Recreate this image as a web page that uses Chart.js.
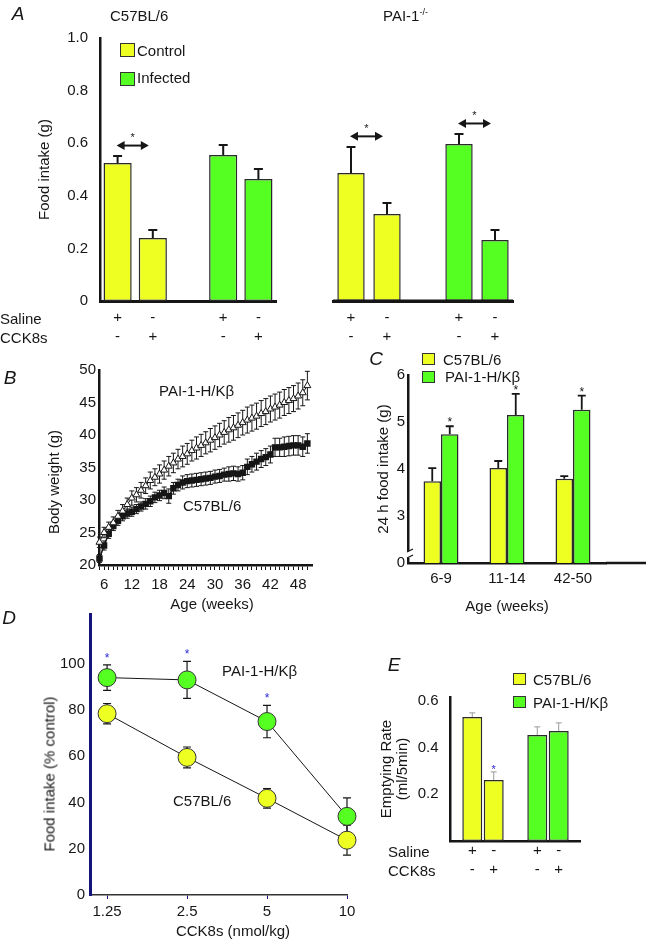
<!DOCTYPE html>
<html>
<head>
<meta charset="utf-8">
<script src="https://cdn.jsdelivr.net/npm/chart.js@4.4.1/dist/chart.umd.min.js"></script>
<style>
  html, body { margin: 0; padding: 0; background: #fff; overflow: hidden; }
  body { width: 646px; height: 939px; position: relative; font-family: "Liberation Sans", Arial, sans-serif; color: #161616; }
  canvas { position: absolute; }
  .t { position: absolute; white-space: nowrap; font-size: 15px; line-height: 1; transform: translateY(-50%); }
  .c { transform: translate(-50%, -50%); }
  .letter { font-style: italic; font-size: 19px; }
  .rot { transform: translate(-50%, -50%) rotate(-90deg); }
  .box { position: absolute; border: 1.5px solid #333; box-sizing: border-box; }
  .sup { font-size: 9px; position: relative; top: -6px; }
</style>
</head>
<body>
<canvas id="chartA1" width="290" height="350" style="left:0;top:0"></canvas>
<canvas id="chartA2" width="210" height="350" style="left:320px;top:0"></canvas>
<canvas id="chartB" width="330" height="265" style="left:0;top:355px"></canvas>
<canvas id="chartC" width="316" height="280" style="left:330px;top:340px"></canvas>
<canvas id="chartD" width="370" height="339" style="left:0;top:600px"></canvas>
<canvas id="chartE" width="276" height="250" style="left:370px;top:640px"></canvas>

<!-- panel A -->
<div class="t c letter" style="left:18px;top:13px">A</div>
<div class="t" style="left:110px;top:15px">C57BL/6</div>
<div class="t" style="left:383px;top:15px">PAI-1<span class="sup">-/-</span></div>
<div class="box" style="left:120px;top:43px;width:15px;height:14px;background:#eeff22"></div>
<div class="t" style="left:137px;top:50px">Control</div>
<div class="box" style="left:120px;top:72px;width:15px;height:14px;background:#55ff22"></div>
<div class="t" style="left:137px;top:77px">Infected</div>
<div class="t" style="left:0;top:318px">Saline</div>
<div class="t" style="left:0;top:337px">CCK8s</div>

<!-- panel B -->
<div class="t c letter" style="left:10px;top:377px">B</div>
<div class="t rot" style="left:53px;top:482px">Body weight (g)</div>
<div class="t c" style="left:212px;top:603px">Age (weeks)</div>
<div class="t" style="left:159px;top:390px">PAI-1-H/Kβ</div>
<div class="t" style="left:183px;top:505px">C57BL/6</div>

<!-- panel C -->
<div class="t c letter" style="left:376px;top:358px">C</div>
<div class="box" style="left:422px;top:353px;width:13px;height:12px;background:#eeff22"></div>
<div class="t" style="left:443px;top:359px">C57BL/6</div>
<div class="box" style="left:422px;top:371px;width:13px;height:12px;background:#55ff22"></div>
<div class="t" style="left:445px;top:376px">PAI-1-H/Kβ</div>

<!-- panel D -->
<div class="t c letter" style="left:9px;top:617px">D</div>
<div class="t rot" style="left:49px;top:774px">Food intake (% control)</div>
<div class="t c" style="left:233px;top:930px">CCK8s (nmol/kg)</div>
<div class="t" style="left:222px;top:670px">PAI-1-H/Kβ</div>
<div class="t" style="left:173px;top:800px">C57BL/6</div>

<!-- panel E -->
<div class="t c letter" style="left:394px;top:664px">E</div>
<div class="box" style="left:513px;top:673px;width:13px;height:12px;background:#eeff22"></div>
<div class="t" style="left:533px;top:679px">C57BL/6</div>
<div class="box" style="left:513px;top:696px;width:13px;height:12px;background:#55ff22"></div>
<div class="t" style="left:533px;top:702px">PAI-1-H/Kβ</div>
<div class="t" style="left:388px;top:851px">Saline</div>
<div class="t" style="left:388px;top:870px">CCK8s</div>

<script>
// ---- data ----

// A: food intake (g); slot 3 is the empty gap between Control and Infected
const aSlots = ['Control saline', 'Control CCK8s', '', 'Infected saline', 'Infected CCK8s'];
const aSaline = ['+', '-', '+', '-'];
const aCck = ['-', '+', '-', '+'];
const aC57 = [0.525, 0.24, null, 0.555, 0.464];
const aC57Err = [0.026, 0.03, null, 0.038, 0.038];
const aPai = [0.487, 0.331, null, 0.597, 0.232];
const aPaiErr = [0.099, 0.042, null, 0.038, 0.038];
const aTicks = [0, 0.2, 0.4, 0.6, 0.8, 1.0];

// B: body weight (g) by age (weeks)
const bWeeks = [5, 6, 7, 8, 9, 10, 11, 12, 13, 14, 15, 16, 17, 18, 19, 20, 21, 22, 23, 24, 25, 26, 27,
  28, 29, 30, 31, 32, 33, 34, 35, 36, 37, 38, 39, 40, 41, 42, 43, 44, 45, 46, 47, 48, 49, 50];
const bPai = [23.5, 25, 25.8, 26.5, 27.5, 28.3, 29.3, 30.3, 30.8, 31.5, 32.2, 33, 33.5, 34, 34.6, 35.2,
  35.7, 36.3, 36.7, 37.1, 37.6, 38, 38.4, 38.8, 39.2, 39.6, 40, 40.4, 40.8, 41.1, 41.5, 41.9, 42.3, 42.6,
  42.9, 43.3, 43.6, 44, 44.3, 44.6, 45, 45.3, 45.6, 46, 46.5, 47.6];
const bPaiErr = [0.8, 0.8, 0.8, 0.9, 0.9, 1, 1, 1.1, 1.1, 1.2, 1.2, 1.3, 1.3, 1.4, 1.4, 1.5, 1.5, 1.5,
  1.6, 1.6, 1.6, 1.7, 1.7, 1.7, 1.8, 1.8, 1.8, 1.8, 1.9, 1.9, 1.9, 1.9, 2, 2, 2, 2, 2, 2, 2, 2, 2, 2, 2,
  2, 2, 2.2];
const bC57 = [21, 23, 24.8, 26, 26.8, 27.5, 27.9, 28.2, 28.6, 29, 29.4, 29.8, 30.4, 30.7, 31.1, 30.6,
  31.8, 32.3, 32.7, 32.9, 33, 33.1, 33.2, 33.3, 33.4, 33.6, 33.7, 33.9, 34, 34.1, 34, 34.2, 35.1, 35.5,
  35.9, 36.3, 36.6, 37, 38.1, 38.1, 38.2, 38.3, 38.4, 38.4, 38.2, 38.7];
const bC57Err = [0.6, 0.7, 0.7, 0.7, 0.7, 0.7, 0.7, 0.7, 0.7, 0.7, 0.8, 0.8, 0.8, 0.8, 0.9, 1.1, 0.9,
  0.9, 1, 1, 1, 1, 1, 1, 1, 1, 1, 1, 1.1, 1.1, 1.1, 1.1, 1.2, 1.2, 1.3, 1.3, 1.3, 1.3, 1.4, 1.4, 1.5, 1.5,
  1.5, 1.5, 1.5, 1.5];
const bAgeLabels = [6, 12, 18, 24, 30, 36, 42, 48];
const bWeightTicks = [20, 25, 30, 35, 40, 45, 50];

// C: 24 h food intake (g); the axis is broken below 3, its bottom tick reads 0
const cAges = ['6-9', '11-14', '42-50'];
const cC57 = [3.74, 4.02, 3.79];
const cC57Err = [0.28, 0.15, 0.06];
const cPai = [4.74, 5.15, 5.26];
const cPaiErr = [0.17, 0.45, 0.3];
const cSig = [true, true, true];
const cTicks = [2, 3, 4, 5, 6];

// D: food intake (% control) vs CCK8s dose (nmol/kg)
const dDose = [1.25, 2.5, 5, 10];
const dPai = [94, 93, 75, 34];
const dPaiErr = [5.5, 8, 7, 8];
const dPaiSig = [true, true, true, false];
const dC57 = [78.4, 59.5, 41.8, 23.7];
const dC57Err = [4.4, 4.5, 4.2, 6.5];
const dTicks = [0, 20, 40, 60, 80, 100];

// E: emptying rate (ml/5min)
const eGroups = ['C57BL/6', 'PAI-1-H/Kβ'];
const eSaline = [0.531, 0.454];
const eSalineErr = [0.018, 0.035];
const eCck = [0.261, 0.471];
const eCckErr = [0.035, 0.035];
const eCckSig = [true, false];
const eSalineSigns = ['+', '-', '+', '-'];
const eCckSigns = ['-', '+', '-', '+'];
const eTicks = [0.2, 0.4, 0.6];

// ---- styling ----
const INK = '#161616';
const NAVY = '#14147a';
const BLUE = '#2a2ad8';
const YELLOW = '#eeff22';
const GREEN = '#55ff22';
const FONT = '"Liberation Sans", Arial, sans-serif';

Chart.defaults.font.family = FONT;
Chart.defaults.font.size = 15;
Chart.defaults.color = INK;
Chart.defaults.animation = false;
Chart.defaults.responsive = false;
Chart.defaults.events = [];
Chart.defaults.plugins.legend.display = false;
Chart.defaults.plugins.tooltip.enabled = false;

const num = (d) => (d == null ? null : typeof d === 'object' ? d.y : d);
const tickList = (values) => (scale) => { scale.ticks = values.map((v) => ({ value: v })); };

function drawStar(ctx, x, yc, color, size) {
  ctx.save();
  ctx.fillStyle = color;
  ctx.font = size + 'px ' + FONT;
  ctx.textAlign = 'center';
  ctx.textBaseline = 'alphabetic';
  ctx.fillText('*', x, yc + size * 0.57);
  ctx.restore();
}

function drawDoubleArrow(ctx, x1, x2, y) {
  const head = 8, half = 4.5;
  ctx.save();
  ctx.strokeStyle = INK;
  ctx.fillStyle = INK;
  ctx.lineWidth = 2;
  ctx.beginPath();
  ctx.moveTo(x1 + head - 1, y);
  ctx.lineTo(x2 - head + 1, y);
  ctx.stroke();
  ctx.beginPath();
  ctx.moveTo(x1, y); ctx.lineTo(x1 + head, y - half); ctx.lineTo(x1 + head, y + half);
  ctx.closePath();
  ctx.moveTo(x2, y); ctx.lineTo(x2 - head, y - half); ctx.lineTo(x2 - head, y + half);
  ctx.closePath();
  ctx.fill();
  ctx.restore();
}

// error bars (under the marks) and significance stars (over them)
const errorBars = {
  id: 'errorBars',
  beforeDatasetsDraw(chart) {
    const { ctx } = chart;
    chart.data.datasets.forEach((ds, di) => {
      if (!ds.err) return;
      const meta = chart.getDatasetMeta(di);
      const yScale = chart.scales[meta.yAxisID];
      const half = (ds.errCap ?? 8) / 2;
      ctx.save();
      ctx.strokeStyle = ds.errColor || INK;
      ctx.lineWidth = ds.errWidth ?? 1.5;
      ctx.beginPath();
      meta.data.forEach((el, i) => {
        const v = num(ds.data[i]);
        const e = ds.err[i];
        if (v == null || e == null) return;
        const hi = yScale.getPixelForValue(v + e);
        const lo = yScale.getPixelForValue(ds.errBoth ? v - e : v);
        ctx.moveTo(el.x, lo); ctx.lineTo(el.x, hi);
        ctx.moveTo(el.x - half, hi); ctx.lineTo(el.x + half, hi);
        if (ds.errBoth) { ctx.moveTo(el.x - half, lo); ctx.lineTo(el.x + half, lo); }
      });
      ctx.stroke();
      ctx.restore();
    });
  },
  afterDatasetsDraw(chart) {
    chart.data.datasets.forEach((ds, di) => {
      if (!ds.sig) return;
      const meta = chart.getDatasetMeta(di);
      const yScale = chart.scales[meta.yAxisID];
      meta.data.forEach((el, i) => {
        if (!ds.sig[i]) return;
        const top = num(ds.data[i]) + (ds.err ? ds.err[i] : 0);
        drawStar(chart.ctx, el.x, yScale.getPixelForValue(top) - (ds.starGap ?? 8), ds.starColor || INK, ds.starSize || 12);
      });
    });
  }
};

// double-headed arrow with a star between two compared bars
function sigArrows(pairs) {
  return {
    id: 'sigArrows',
    afterDatasetsDraw(chart) {
      const ds = chart.data.datasets[0];
      const meta = chart.getDatasetMeta(0);
      const y = chart.scales.y;
      pairs.forEach(([i, j]) => {
        const top = Math.max(ds.data[i] + ds.err[i], ds.data[j] + ds.err[j]) + 0.04;
        const py = y.getPixelForValue(top);
        const x1 = meta.data[i].x - 1;
        const x2 = meta.data[j].x - 4;
        drawDoubleArrow(chart.ctx, x1, x2, py);
        drawStar(chart.ctx, (x1 + x2) / 2, py - 11, INK, 11);
      });
    }
  };
}

// +/- treatment rows under the bars, left to right
function signRows(rows, ys) {
  return {
    id: 'signRows',
    afterDraw(chart) {
      const xs = [];
      chart.data.datasets.forEach((ds, di) => {
        chart.getDatasetMeta(di).data.forEach((el, i) => {
          if (num(ds.data[i]) != null) xs.push(el.x);
        });
      });
      xs.sort((a, b) => a - b);
      const ctx = chart.ctx;
      ctx.save();
      ctx.fillStyle = INK;
      ctx.font = '15px ' + FONT;
      ctx.textAlign = 'center';
      ctx.textBaseline = 'middle';
      rows.forEach((row, r) => row.forEach((s, i) => ctx.fillText(s, xs[i], ys[r])));
      ctx.restore();
    }
  };
}

// panel A right half has no value axis: draw its base line across the plot
const baseLine = {
  id: 'baseLine',
  afterDraw(chart) {
    const { ctx, chartArea: a } = chart;
    ctx.save();
    ctx.strokeStyle = INK;
    ctx.lineWidth = 3;
    ctx.beginPath();
    ctx.moveTo(a.left, a.bottom);
    ctx.lineTo(a.right, a.bottom);
    ctx.stroke();
    ctx.restore();
  }
};

// panel C: break mark on the y axis, x axis runs on to the panel edge
const brokenAxis = {
  id: 'brokenAxis',
  afterDraw(chart) {
    const { ctx, chartArea: a } = chart;
    const x = a.left;
    const y = a.bottom - 8;
    ctx.save();
    ctx.strokeStyle = INK;
    ctx.lineWidth = 2.5;
    ctx.beginPath();
    ctx.moveTo(a.right, a.bottom);
    ctx.lineTo(chart.width, a.bottom);
    ctx.stroke();
    ctx.clearRect(x - 2, y - 4, 4, 7);
    ctx.lineWidth = 1.3;
    ctx.beginPath();
    ctx.moveTo(x + 5, y - 6); ctx.lineTo(x - 1, y - 3);
    ctx.moveTo(x + 5, y); ctx.lineTo(x - 1, y + 3);
    ctx.stroke();
    ctx.restore();
  }
};

const noGrid = { display: false, drawTicks: false };
const axisLine = (w, color) => ({ display: true, color: color || INK, width: w });

// ---- A ----
const aColors = [YELLOW, YELLOW, null, GREEN, GREEN];

function panelA(id, values, errs, showY, pad, pairs) {
  return new Chart(document.getElementById(id), {
    type: 'bar',
    data: {
      labels: aSlots,
      datasets: [{
        data: values,
        err: errs,
        errWidth: 2,
        errCap: 9,
        backgroundColor: aColors,
        borderColor: '#2a2a2a',
        borderWidth: 1.5,
        borderSkipped: false,
        barPercentage: showY ? 0.8 : 0.76,
        categoryPercentage: 1
      }]
    },
    options: {
      layout: { padding: pad },
      scales: {
        x: {
          ticks: { display: false },
          grid: noGrid,
          border: axisLine(3),
          afterFit: (s) => { s.height = 49; }
        },
        y: {
          display: showY,
          min: 0,
          max: 1,
          afterBuildTicks: tickList(aTicks),
          ticks: { padding: 12, callback: (v) => (v === 0 ? '0' : v.toFixed(1)) },
          grid: noGrid,
          border: axisLine(2.5),
          title: { display: true, text: 'Food intake (g)', padding: { top: 36, bottom: 0 } },
          afterFit: (s) => { s.width = showY ? 100 : 0; }
        }
      }
    },
    plugins: [errorBars, sigArrows(pairs), signRows([aSaline, aCck], [318, 337])].concat(showY ? [] : [baseLine])
  });
}

panelA('chartA1', aC57, aC57Err, true, { top: 38, right: 14, bottom: 0, left: 0 }, [[0, 1]]);
panelA('chartA2', aPai, aPaiErr, false, { top: 38, right: 17, bottom: 0, left: 13 }, [[0, 1], [3, 4]]);

// ---- B ----
new Chart(document.getElementById('chartB'), {
  type: 'line',
  data: {
    datasets: [{
      label: 'PAI-1-H/Kβ',
      data: bWeeks.map((x, i) => ({ x, y: bPai[i] })),
      err: bPaiErr,
      errBoth: true,
      errWidth: 1,
      errCap: 5,
      pointStyle: 'triangle',
      pointRadius: 4,
      pointBackgroundColor: '#fff',
      pointBorderColor: INK,
      pointBorderWidth: 1,
      borderColor: INK,
      borderWidth: 1,
      clip: false
    }, {
      label: 'C57BL/6',
      data: bWeeks.map((x, i) => ({ x, y: bC57[i] })),
      err: bC57Err,
      errBoth: true,
      errWidth: 1,
      errCap: 5,
      pointStyle: 'rect',
      pointRadius: 3.5,
      pointBackgroundColor: INK,
      pointBorderColor: INK,
      borderColor: INK,
      borderWidth: 1.5,
      clip: false
    }]
  },
  options: {
    layout: { padding: { top: 15, right: 18, bottom: 0, left: 0 } },
    scales: {
      x: {
        type: 'linear',
        min: 4.9,
        max: 51,
        afterBuildTicks: tickList(bWeeks),
        ticks: {
          autoSkip: false,
          maxRotation: 0,
          padding: 6,
          callback: (v) => (bAgeLabels.includes(v) ? String(v) : '')
        },
        grid: { drawOnChartArea: false, drawTicks: true, tickLength: 5, color: INK },
        border: axisLine(2.5),
        afterFit: (s) => { s.height = 55; }
      },
      y: {
        min: 20,
        max: 50,
        afterBuildTicks: tickList(bWeightTicks),
        ticks: { padding: 3 },
        grid: noGrid,
        border: axisLine(2.5),
        afterFit: (s) => { s.width = 99; }
      }
    }
  },
  plugins: [errorBars]
});

// ---- C ----
const barStyle = { borderColor: '#2a2a2a', borderWidth: 1.5, borderSkipped: false, errWidth: 1.8, errCap: 8 };

new Chart(document.getElementById('chartC'), {
  type: 'bar',
  data: {
    labels: cAges,
    datasets: [
      Object.assign({ label: 'C57BL/6', data: cC57, err: cC57Err, backgroundColor: YELLOW }, barStyle),
      Object.assign({ label: 'PAI-1-H/Kβ', data: cPai, err: cPaiErr, sig: cSig, starGap: 7, starSize: 12, backgroundColor: GREEN }, barStyle)
    ]
  },
  options: {
    layout: { padding: { top: 35, right: 40, bottom: 0, left: 0 } },
    datasets: { bar: { categoryPercentage: 0.53, barPercentage: 1 } },
    scales: {
      x: {
        ticks: { padding: 7 },
        grid: noGrid,
        border: axisLine(2.5),
        title: { display: true, text: 'Age (weeks)', padding: { top: 0, bottom: 4.5 } },
        afterFit: (s) => { s.height = 57; }
      },
      y: {
        min: 2,
        max: 6,
        beginAtZero: false,
        afterBuildTicks: tickList(cTicks),
        ticks: { padding: 3, callback: (v) => (v === 2 ? '0' : String(v)) },
        grid: noGrid,
        border: axisLine(2.5),
        title: { display: true, text: '24 h food intake (g)', padding: { top: 44.5, bottom: 0 } },
        afterFit: (s) => { s.width = 78; }
      }
    }
  },
  plugins: [errorBars, brokenAxis]
});

// ---- D ----
const dotStyle = { pointRadius: 9, pointBorderColor: '#333', pointBorderWidth: 1, borderColor: INK, borderWidth: 1, errBoth: true, errWidth: 1.2, errCap: 8, clip: false };

new Chart(document.getElementById('chartD'), {
  type: 'line',
  data: {
    datasets: [
      Object.assign({
        label: 'PAI-1-H/Kβ',
        data: dDose.map((x, i) => ({ x, y: dPai[i] })),
        err: dPaiErr,
        sig: dPaiSig,
        starColor: BLUE,
        starGap: 10,
        starSize: 12,
        pointBackgroundColor: GREEN
      }, dotStyle),
      Object.assign({
        label: 'C57BL/6',
        data: dDose.map((x, i) => ({ x, y: dC57[i] })),
        err: dC57Err,
        pointBackgroundColor: YELLOW
      }, dotStyle)
    ]
  },
  options: {
    layout: { padding: { top: 13, right: 23, bottom: 0, left: 0 } },
    scales: {
      x: {
        type: 'logarithmic',
        min: 1.078,
        max: 10,
        afterBuildTicks: tickList(dDose),
        ticks: { padding: 4, callback: (v) => String(v) },
        grid: { drawOnChartArea: false, drawTicks: true, tickLength: 4, color: NAVY },
        border: axisLine(1.5, '#333'),
        afterFit: (s) => { s.height = 44; }
      },
      y: {
        min: 0,
        max: 121.5,
        afterBuildTicks: tickList(dTicks),
        ticks: { padding: 5 },
        grid: noGrid,
        border: axisLine(3, NAVY),
        afterFit: (s) => { s.width = 90; }
      }
    }
  },
  plugins: [errorBars]
});

// ---- E ----
const eBarStyle = { backgroundColor: [YELLOW, GREEN], borderColor: '#2a2a2a', borderWidth: 1.5, borderSkipped: false, errColor: '#9a9a9a', errWidth: 1, errCap: 6 };

new Chart(document.getElementById('chartE'), {
  type: 'bar',
  data: {
    labels: eGroups,
    datasets: [
      Object.assign({ label: 'Saline', data: eSaline, err: eSalineErr }, eBarStyle),
      Object.assign({ label: 'CCK8s', data: eCck, err: eCckErr, sig: eCckSig, starColor: BLUE, starGap: 5, starSize: 11 }, eBarStyle)
    ]
  },
  options: {
    layout: { padding: { top: 57, right: 65.5, bottom: 0, left: 0 } },
    datasets: { bar: { categoryPercentage: 0.66, barPercentage: 0.93 } },
    scales: {
      x: {
        ticks: { display: false },
        grid: noGrid,
        border: axisLine(2.5),
        afterFit: (s) => { s.height = 49; }
      },
      y: {
        min: 0,
        max: 0.617,
        afterBuildTicks: tickList(eTicks),
        ticks: { padding: 12, callback: (v) => v.toFixed(1) },
        grid: noGrid,
        border: axisLine(2.5),
        title: {
          display: true,
          text: ['Emptying Rate', '(ml/5min)'],
          font: { size: 15, lineHeight: 1.07 },
          padding: { top: 9, bottom: 0 }
        },
        afterFit: (s) => { s.width = 80.5; }
      }
    }
  },
  plugins: [errorBars, signRows([eSalineSigns, eCckSigns], [211, 230])]
});
</script>
</body>
</html>
